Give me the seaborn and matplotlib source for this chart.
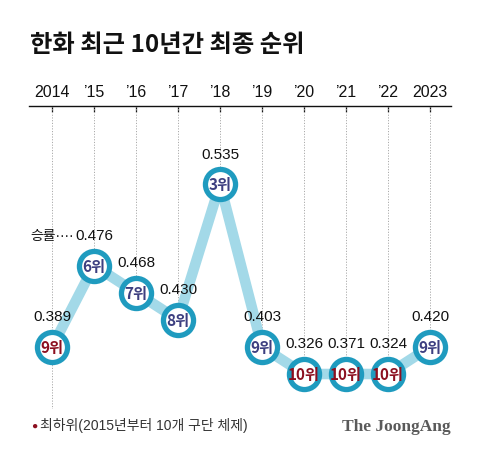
import numpy as np
import pandas as pd
import seaborn as sns
import matplotlib.pyplot as plt

# ====================== DATA ======================
years = ["2014", "’15", "’16", "’17", "’18", "’19", "’20", "’21", "’22", "2023"]
rank = [9, 6, 7, 8, 3, 9, 10, 10, 10, 9]
win_rate = ["0.389", "0.476", "0.468", "0.430", "0.535", "0.403", "0.326", "0.371", "0.324", "0.420"]
is_last = [True, False, False, False, False, False, True, True, True, False]

df = pd.DataFrame({"x": np.arange(len(years)), "rank": rank,
                   "rate": win_rate, "last": is_last})

# ====================== STYLE ======================
sns.set_theme(style="white")
plt.rcParams["font.family"] = ["Liberation Sans", "Noto Sans CJK KR", "DejaVu Sans"]

LINE_C = "#a3d9e8"
RING_C = "#1f9bbf"
NAVY = "#3d3f80"
RED = "#8c1020"

fig = plt.figure(figsize=(4.8, 4.56), dpi=100)
ax = fig.add_axes([29 / 480, 1 - 410 / 456, (451 - 29) / 480, (410 - 107) / 456])

x_lo, x_hi = -0.55, 9.5
y_top, y_bot = 0.12, 11.29
ax.set_xlim(x_lo, x_hi)
ax.set_ylim(y_bot, y_top)

# dotted guides from axis down to each marker (2014 goes all the way down)
for _, r in df.iterrows():
    lo = y_bot if r["x"] == 0 else r["rank"]
    ax.vlines(r["x"], y_top, lo, colors="#aaaaaa", linestyles=(0, (1.2, 1.6)),
              linewidth=0.7, zorder=1)

sns.lineplot(data=df, x="x", y="rank", color=LINE_C, linewidth=7.6,
             solid_capstyle="round", ax=ax, zorder=2)
sns.scatterplot(data=df, x="x", y="rank", s=470, color="white",
                edgecolor=RING_C, linewidth=3.8, ax=ax, zorder=3)

for _, r in df.iterrows():
    c = RED if r["last"] else NAVY
    ax.text(r["x"], r["rank"], f"{r['rank']}위", ha="center", va="center",
            fontsize=11, fontweight="heavy", color=c, zorder=4,
            family=["Noto Sans CJK KR"])
    ax.annotate(r["rate"], (r["x"], r["rank"]), xytext=(0, 22),
                textcoords="offset points", ha="center", va="center",
                fontsize=11, color="#111111", zorder=4)

# "승률····" leader before the 2015 value
ax.annotate("승률····", (1, rank[1]), xytext=(-14.5, 22), textcoords="offset points",
            ha="right", va="center", fontsize=10, color="#111111")

# axis: top spine with year labels
for s in ["left", "right", "bottom"]:
    ax.spines[s].set_visible(False)
ax.spines["top"].set_color("#111111")
ax.spines["top"].set_linewidth(1.0)
ax.xaxis.tick_top()
ax.set_xticks(df["x"])
ax.set_xticklabels(years, fontsize=11.5, color="#111111")
ax.tick_params(axis="x", direction="in", length=4, width=0.9, color="#111111", pad=5)
ax.set_yticks([])
ax.set_xlabel("")
ax.set_ylabel("")

# title and footer
fig.text(30 / 480, 1 - 45 / 456, "한화 최근 10년간 최종 순위", fontsize=17.5,
         fontweight="heavy", va="center", ha="left", color="#111111",
         family=["Noto Sans CJK KR"])
fig.text(31 / 480, 1 - 426 / 456, "●", fontsize=7.5, color=RED, va="center", ha="left")
fig.text(40 / 480, 1 - 426 / 456, "최하위(2015년부터 10개 구단 체제)", fontsize=10,
         color="#333333", va="center", ha="left")
fig.text(451 / 480, 1 - 427 / 456, "The JoongAng", fontsize=12.5, fontweight="bold",
         color="#5a5a5a", va="center", ha="right", family=["Liberation Serif"])

plt.savefig("out.png", dpi=100)
